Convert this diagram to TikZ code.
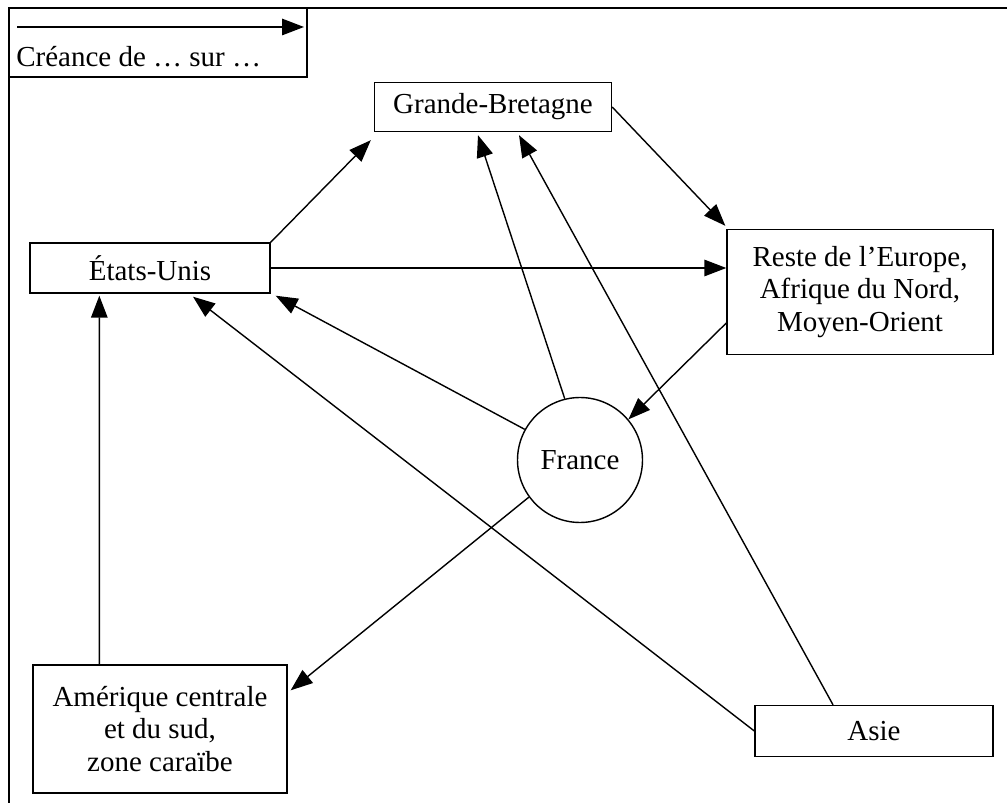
\documentclass[tikz,border=0pt]{standalone}
\usepackage{fontspec}
\setmainfont{Liberation Serif}
\usetikzlibrary{arrows.meta,calc}
\tikzset{
    country-box/.style = {draw, thick, fill=white, rectangle, align=center, inner sep=2pt, font=\fontsize{16.5}{18.5}\selectfont},
    country-circle/.style = {draw, thick, fill=white, circle, minimum size=2.5cm, inner sep=0pt, font=\fontsize{16.5}{18.5}\selectfont},
    claim-arrow/.style = {thick, -{Triangle[length=0.44cm, width=0.33cm]}},
}

\begin{document}
\begin{tikzpicture}[x=0.02cm, y=-0.02cm]
\useasboundingbox (0,0) rectangle (1007,803);
\draw[thick] (9,803) -- (9,8) -- (1007,8);
\node [country-box, minimum width=5.96cm, minimum height=1.38cm] (legend) at (158,42.5){};
\coordinate (legend-start) at (17,27);
\coordinate (legend-end) at (304,27);
\draw[claim-arrow] (legend-start) -- (legend-end);
\node [anchor=west, inner sep=0pt, font=\fontsize{16.5}{18.5}\selectfont] (legend-text) at (16,57) {Créance de … sur …};

\node [country-box, minimum width=4.74cm, minimum height=0.98cm] (gb) at (493,107) {Grande-Bretagne};
\node [country-box, minimum width=4.8cm, minimum height=1.0cm] (us) at (150,268) {États-Unis};
\node [country-box, minimum width=5.32cm, minimum height=2.5cm] (reste) at (860,292) {Reste de l'Europe,\\Afrique du Nord,\\Moyen-Orient};
\node [country-circle] (france) at (580,460) {France};
\node [country-box, minimum width=5.08cm, minimum height=2.56cm] (am) at (160,729) {Amérique centrale\\et du sud,\\zone caraïbe};
\node [country-box, minimum width=4.76cm, minimum height=1.02cm] (asie) at (874,731) {Asie};

% creances
\draw[claim-arrow] (us.north east) -- ($(gb.south west)+(-3,8)$);
\draw[claim-arrow] (us.east) -- (us.east -| reste.west);
\draw[claim-arrow] (gb.east) -- ($(reste.north west)+(-1,-3)$);
\draw[claim-arrow] ($(reste.west)+(0,31)$) -- (france.40);
\draw[claim-arrow] (france.104) -- ($(gb.south)+(-15,3)$);
\draw[claim-arrow] (france.151) -- ($(us.south east)+(5,2)$);
\draw[claim-arrow] (france.216) -- ($(am.north east)+(3,26)$);
\draw[claim-arrow] ($(am.north west)+(67,0)$) -- ($(us.south west)+(70,2)$);
\draw[claim-arrow] (asie.west) -- ($(us.south)+(43,3)$);
\draw[claim-arrow] ($(asie.north)+(-41,0)$) -- ($(gb.south)+(26,3)$);
\end{tikzpicture}
\end{document}
